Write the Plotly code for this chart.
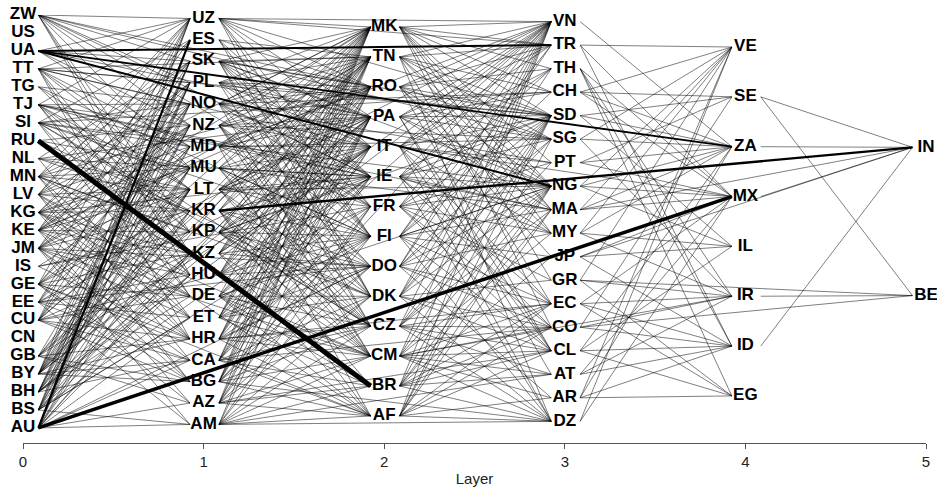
import plotly.graph_objects as go

# ---------------- data ----------------
layer0 = ["ZW", "US", "UA", "TT", "TG", "TJ", "SI", "RU", "NL", "MN", "LV", "KG",
          "KE", "JM", "IS", "GE", "EE", "CU", "CN", "GB", "BY", "BH", "BS", "AU"]
layer1 = ["UZ", "ES", "SK", "PL", "NO", "NZ", "MD", "MU", "LT", "KR", "KP", "KZ",
          "HU", "DE", "ET", "HR", "CA", "BG", "AZ", "AM"]
layer2 = ["MK", "TN", "RO", "PA", "IT", "IE", "FR", "FI", "DO", "DK", "CZ", "CM", "BR", "AF"]
layer3 = ["VN", "TR", "TH", "CH", "SD", "SG", "PT", "NG", "MA", "MY", "JP", "GR",
          "EC", "CO", "CL", "AT", "AR", "DZ"]
layer4 = ["VE", "SE", "ZA", "MX", "IL", "IR", "ID", "EG"]
layer5 = ["IN", "BE"]
layers = [layer0, layer1, layer2, layer3, layer4, layer5]
layer_ticks = [0, 1, 2, 3, 4, 5]

# outgoing edges (from a node to nodes of higher layers)
edges_from_layer0 = {
    "ZW": ["UZ", "PL", "NZ", "MU", "KP", "HU", "RO", "FR", "SK", "KZ", "IE", "SG"],
    "UA": ["UZ", "SK", "MD", "NZ", "PA"],
    "TT": ["PL", "NO", "MD", "MU", "KZ", "DE", "TN", "SD", "UZ", "LT", "HR", "IT"],
    "TG": ["NO", "LT", "KP", "FI"],
    "TJ": ["NO", "NZ", "LT", "KP", "HU", "IE", "MA", "UZ", "MD", "DE", "CZ"],
    "SI": ["MD", "MU", "KR", "ET", "CZ", "CH", "ES", "NO", "HU", "FI", "NG"],
    "RU": ["NZ", "KZ", "MU", "DK"],
    "NL": ["LT", "KR", "IE", "SK", "HR", "PA"],
    "MN": ["UZ", "SK", "NO", "MU", "LT", "KP", "CA", "DK", "KZ", "ET", "RO"],
    "LV": ["ES", "PL", "MD", "LT", "HU", "HR", "AF", "UZ", "KR", "BG", "MK"],
    "KG": ["SK", "NZ", "MU", "KR", "KZ", "ET", "BG", "VN", "PL", "DE", "IE", "CM"],
    "KE": ["UZ", "NO", "NZ", "LT", "KP", "DE", "HR", "AZ", "MK", "SK", "MU", "KZ", "RO"],
    "JM": ["ES", "PL", "MD", "KR", "HU", "ET", "CA", "AM", "DO", "CM", "NZ", "LT", "BG", "TN"],
    "IS": ["KP", "HR", "MU", "FR"],
    "GE": ["NZ", "MU", "KZ", "DE", "BG", "AZ", "UZ", "NO", "LT", "HR", "PA", "AF"],
    "EE": ["NO", "KR", "HU", "ET", "AM", "SK", "MD", "CA", "IT", "DO"],
    "CU": ["PL", "MD", "LT", "DE", "HR", "CA", "FI", "UZ", "NZ", "KZ", "BG", "MK"],
    "GB": ["MU", "KP", "BG", "AZ", "IT", "NO", "LT", "HR", "TN"],
    "BY": ["UZ", "SK", "NZ", "MD", "LT", "KZ", "HR", "BG", "TN", "PL", "MU", "KR", "CA", "PA", "MK"],
    "BH": ["PL", "NO", "MU", "KR", "DE", "CA", "PA", "SK", "NZ", "LT", "HU", "IT", "RO"],
    "BS": ["SK", "MD", "LT", "HU", "ET", "AM", "FR", "UZ", "PL", "NZ", "KZ", "MK", "IE"],
    "AU": ["UZ", "NO", "KR", "KZ", "ET", "CA", "AZ", "AM", "SK", "PL", "MU", "LT", "HU", "TN", "DO"],
}
edges_from_layer1 = {
    "UZ": ["VN", "MK", "RO", "IT", "FI", "DK", "TR", "PA", "FR", "SD"],
    "ES": ["TN", "IE", "RO", "FI", "DK"],
    "SK": ["MK", "RO", "PA", "IT", "IE", "FR", "DK", "CZ", "SD", "TN", "FI", "NG"],
    "PL": ["TN", "PA", "IT", "FI", "SD", "MK", "RO", "IE", "CZ"],
    "NO": ["MK", "RO", "IE", "FR", "CM", "PT", "TN", "PA", "DO", "CH"],
    "NZ": ["TN", "PA", "FI", "DO", "DK", "CZ", "SG", "MK", "RO", "IT", "CM"],
    "MD": ["MK", "RO", "IT", "FR", "AF", "TN", "PA", "IE", "DK", "SG"],
    "MU": ["PA", "IE", "FI", "DO", "CM", "MA", "MK", "TN", "IT", "CZ"],
    "LT": ["TN", "IT", "FR", "DK", "CZ", "NG", "RO", "PA", "IE", "CM", "VN"],
    "KR": ["RO", "IE", "FI", "CM", "BR", "AF", "MK", "TN", "DO", "CZ"],
    "KP": ["MK", "PA", "DO", "DK", "CZ", "SD", "TN", "IT", "IE", "FI", "CM"],
    "KZ": ["TN", "RO", "IT", "FI", "CM", "VN", "MK", "PA", "DO", "AF"],
    "HU": ["MK", "PA", "FR", "DO", "BR", "VN", "TN", "RO", "IE", "CZ"],
    "DE": ["IT", "IE", "DK", "CZ", "AF", "NG", "MK", "PA", "FI", "CM", "BR"],
    "ET": ["TN", "RO", "FI", "CM", "BR", "VN", "MK", "IT", "DO", "DK"],
    "HR": ["MK", "PA", "IE", "DO", "CZ", "AF", "EC", "TN", "RO", "FI", "CM"],
    "CA": ["MK", "IT", "FR", "DK", "BR", "CO", "TN", "PA", "IE", "CZ", "AF"],
    "BG": ["TN", "RO", "FI", "CZ", "CM", "AF", "VN", "DZ", "MK", "PA", "IT", "DO"],
    "AZ": ["PA", "IE", "DO", "CM", "BR", "CL", "MK", "RO", "FR", "DK", "AF"],
    "AM": ["FR", "DK", "CZ", "BR", "AF", "DZ", "AT", "TN", "PA", "FI", "CM"],
}
edges_from_layer2 = {
    "MK": ["VN", "TR", "SD", "PT", "MA", "MY", "GR", "CO", "TH", "CH", "NG"],
    "TN": ["VN", "TR", "CH", "SG", "NG", "EC", "SD", "MA", "DZ"],
    "RO": ["VN", "TH", "SD", "NG", "JP", "CL", "TR", "SG", "MY"],
    "PA": ["VN", "CH", "SD", "SG", "MA", "AT", "TR", "NG", "CL"],
    "IT": ["TR", "SD", "PT", "NG", "MY", "CL", "DZ", "MX", "VN", "TH", "EC"],
    "IE": ["VN", "TH", "SG", "NG", "MA", "EC", "DZ", "SD", "MY", "CO"],
    "FR": ["VN", "SD", "PT", "MY", "GR", "CO", "TH", "NG", "CL"],
    "FI": ["TR", "CH", "NG", "MA", "JP", "CL", "DZ", "VN", "SD", "EC"],
    "DO": ["VN", "SD", "NG", "MY", "EC", "AR", "TR", "SG", "CO"],
    "DK": ["TH", "SG", "NG", "GR", "CO", "DZ", "VN", "SD", "CL"],
    "CZ": ["SD", "PT", "MA", "EC", "CL", "AT", "DZ", "VN", "NG", "CO"],
    "CM": ["VN", "NG", "MY", "CO", "CL", "AR", "DZ", "IR", "SD", "EC", "AT"],
    "BR": ["SD", "NG", "JP", "EC", "CL", "AT", "DZ", "VN", "MA", "CO"],
    "AF": ["VN", "SG", "MA", "CO", "CL", "AR", "DZ", "SD", "NG", "EC"],
}
edges_from_layer3 = {
    "VN": ["ZA"],
    "TR": ["VE", "MX", "ID"],
    "TH": ["MX", "IR", "ID", "EG"],
    "CH": ["SE", "VE", "ZA", "MX"],
    "SD": ["SE", "ZA", "IL"],
    "SG": ["ZA", "VE", "IR"],
    "PT": ["ZA", "SE", "MX"],
    "NG": ["MX", "VE", "ZA", "IL"],
    "MA": ["VE", "ZA", "MX", "IN"],
    "MY": ["VE", "IL", "IR", "ZA"],
    "JP": ["IL", "ID", "MX", "IN"],
    "GR": ["IR", "VE", "EG", "BE"],
    "EC": ["IR", "ID", "MX", "EG"],
    "CO": ["IR", "ID", "SE", "BE"],
    "CL": ["ID", "EG", "ZA", "IL"],
    "AT": ["ID", "IR", "MX"],
    "AR": ["EG", "ID", "VE", "ZA"],
    "DZ": ["VE", "MX"],
}
edges_from_layer4 = {
    "SE": ["IN", "BE"],
    "ZA": ["IN"],
    "MX": ["IN"],
    "ID": ["IN"],
    "IR": ["BE"],
}
# heavy edges and their line widths
heavy_src = ["RU", "AU", "AU", "UA", "UA", "UA", "KR"]
heavy_dst = ["BR", "MX", "ES", "TR", "NG", "ZA", "IN"]
heavy_w = [5.0, 3.5, 2.2, 2.0, 2.0, 1.8, 2.4]

# ---------------- layout parameters ----------------
half_span = [1.0, 0.983, 0.942, 0.968, 0.845, 0.359]
right_off = 0.085
left_off = 0.075

pos = {}
for k, nodes in enumerate(layers):
    n = len(nodes)
    h = half_span[k]
    for i, name in enumerate(nodes):
        y = h - 2 * h * i / (n - 1) if n > 1 else 0.0
        pos[name] = (layer_ticks[k], y)


def seg(a, b):
    xa, ya = pos[a]
    xb, yb = pos[b]
    return [xa + right_off, xb - left_off], [ya, yb]


xs, ys = [], []
for group in [edges_from_layer0, edges_from_layer1, edges_from_layer2,
              edges_from_layer3, edges_from_layer4]:
    for s, targets in group.items():
        for t in targets:
            sx, sy = seg(s, t)
            xs += sx + [None]
            ys += sy + [None]

fig = go.Figure()
fig.add_trace(go.Scatter(x=xs, y=ys, mode="lines",
                         line=dict(color="rgba(0,0,0,0.72)", width=0.7),
                         hoverinfo="skip", showlegend=False))

for s, t, w in zip(heavy_src, heavy_dst, heavy_w):
    sx, sy = seg(s, t)
    fig.add_trace(go.Scatter(x=sx, y=sy, mode="lines",
                             line=dict(color="black", width=w),
                             hoverinfo="skip", showlegend=False))

names = [n for L in layers for n in L]
fig.add_trace(go.Scatter(
    x=[pos[n][0] for n in names], y=[pos[n][1] for n in names],
    mode="text", text=names, textposition="middle center",
    textfont=dict(family="Liberation Sans, Arial", size=17, color="black", weight="bold"),
    cliponaxis=False, hoverinfo="text", showlegend=False))

fig.update_layout(
    width=937, height=488,
    margin=dict(l=23, r=11, t=15, b=45),
    paper_bgcolor="white", plot_bgcolor="white",
    xaxis=dict(range=[0, 5], tickvals=layer_ticks, ticktext=[str(v) for v in layer_ticks],
               automargin=False,
               showgrid=False, zeroline=False, showline=True, linecolor="#555",
               linewidth=1, ticks="outside", ticklen=5, tickcolor="#555",
               tickfont=dict(family="Liberation Sans, Arial", size=15, color="#222"),
               title=dict(text="Layer", standoff=4,
                          font=dict(family="Liberation Sans, Arial", size=15, color="#222"))),
    yaxis=dict(range=[-1.073, 1], visible=False),
)

fig.write_html("out.html")
